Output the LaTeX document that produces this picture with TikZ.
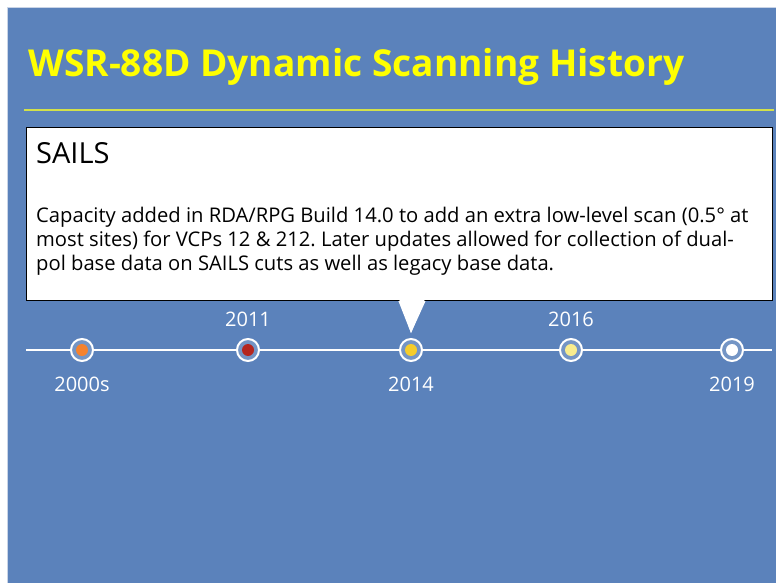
\documentclass[tikz,border=0pt]{standalone}
\usepackage{fontspec}
\setmainfont{Open Sans}
\frenchspacing
\definecolor{bgblue}{HTML}{5B82BB}
\definecolor{ruleyel}{HTML}{D2E04A}
\definecolor{titleyel}{HTML}{FFFF00}
\definecolor{c2000}{HTML}{F5822E}
\definecolor{c2011}{HTML}{B5261E}
\definecolor{c2014}{HTML}{F5CC2A}
\definecolor{c2016}{HTML}{F8EC8E}
\definecolor{c2019}{HTML}{FFFFFF}
\definecolor{edgegray}{HTML}{C9D4E6}
\tikzset{
  dotring/.style={circle, draw=white, line width=2pt, fill=bgblue!85!white, minimum size=22pt, inner sep=0pt},
  dotfill/.style={circle, fill=#1, minimum size=12pt, inner sep=0pt},
  yearlbl/.style={text=white, font=\fontsize{20}{22}\selectfont, inner sep=0pt},
}
\begin{document}
\begin{tikzpicture}[x=1pt,y=-1pt]
\useasboundingbox (0,0) rectangle (776,583);
\fill[white] (0,0) rectangle (776,583);
\fill[edgegray] (7,7) rectangle (776,583);
\fill[bgblue] (8,8) rectangle (776,583);
% title
\node[anchor=base west, inner sep=0pt, text=titleyel, font=\fontsize{37.1}{40}\selectfont\bfseries] (title) at (28,77) {WSR-88D Dynamic Scanning History};
\coordinate (rl) at (24,110);
\coordinate (rr) at (774,110);
\draw[ruleyel, line width=1.2pt] (rl) -- (rr);
% timeline
\coordinate (tl) at (26,350);
\coordinate (tr) at (772,350);
\draw[white, line width=2.5pt] (tl) -- (tr);
\foreach \n/\x/\c in {a/82/c2000, b/248/c2011, c/411/c2014, d/571/c2016, e/732/c2019}{
  \node[dotring] (ring\n) at (\x,350) {};
  \node[dotfill=\c] (dot\n) at (\x,350) {};
}
\node[yearlbl, anchor=base] (la) at (82,391) {2000s};
\node[yearlbl, anchor=base] (lb) at (248,326) {2011};
\node[yearlbl, anchor=base] (lc) at (411,391) {2014};
\node[yearlbl, anchor=base] (ld) at (571,326) {2016};
\node[yearlbl, anchor=base] (le) at (732,391) {2019};
% callout
\coordinate (p1) at (398,300);
\coordinate (p2) at (426,300);
\coordinate (ptip) at (411,333);
\fill[white] (p1) -- (ptip) -- (p2) -- cycle;
\node[draw=black, line width=0.8pt, fill=white, anchor=north west, minimum width=746pt, minimum height=173pt, inner sep=0pt] (box) at (26,127) {};
\fill[white] (399,299) -- (ptip) -- (425,299) -- cycle;
\node[anchor=base west, inner sep=0pt, font=\fontsize{29}{32}\selectfont] (head) at (36,164) {SAILS};
\node[anchor=base west, inner sep=0pt, align=left, font=\fontsize{20.2}{24}\selectfont] (body) at (36,270) {Capacity added in RDA/RPG Build 14.0 to add an extra low-level scan (0.5° at\\most sites) for VCPs 12 \& 212. Later updates allowed for collection of dual-\\pol base data on SAILS cuts as well as legacy base data.};
\end{tikzpicture}
\end{document}
